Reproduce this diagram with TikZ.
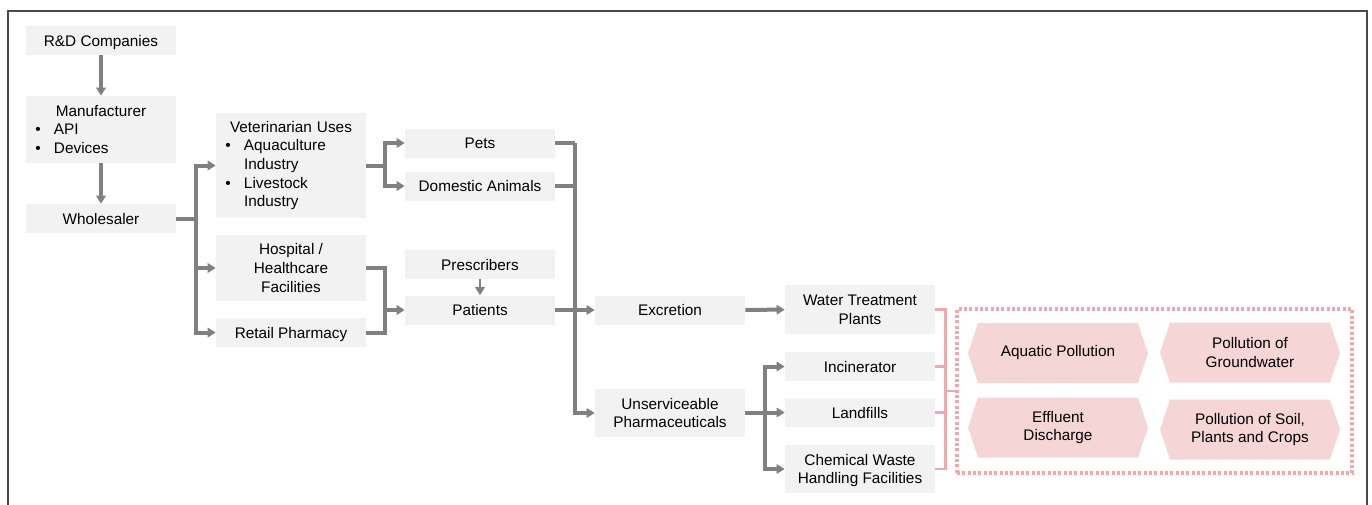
\documentclass[tikz,border=0pt]{standalone}
\usepackage{fontspec}
\setmainfont{Liberation Sans}
\usetikzlibrary{positioning, arrows.meta, shapes.symbols}

\definecolor{boxgray}{HTML}{F2F2F2}
\definecolor{linkgray}{HTML}{808080}
\definecolor{framegray}{HTML}{4A4A4A}
\definecolor{impactpink}{HTML}{F0A9AB}
\definecolor{hexpink}{HTML}{F5D5D6}

\newcommand{\boxhead}[1]{\makebox[\hsize]{#1}}
\newcommand{\bitem}[1]{\hspace*{7pt}\makebox[14pt][l]{\textbullet}#1}
\newcommand{\bcont}[1]{\hspace*{21pt}#1}

\tikzset{
  stage/.style={fill=boxgray, minimum width=112.5pt, minimum height=21.75pt,
    inner sep=0pt, align=center, text depth=0pt},
  liststage/.style={stage, text depth=, text width=112.5pt, align=left},
  link/.style={draw=linkgray, line width=3pt},
  flow/.style={link, -{Triangle[length=6pt,width=7pt]}},
  impactlink/.style={draw=impactpink, line width=2.2pt},
  impact/.style={signal, signal to=west and east, signal pointer angle=143,
    fill=hexpink, minimum width=135pt, minimum height=45pt, inner sep=0pt,
    align=center}
}

\begin{document}
\begin{tikzpicture}[x=0.75pt, y=-0.75pt, font=\fontsize{11.5}{14}\selectfont]
    \useasboundingbox (0,0) rectangle (1372,504);
    \draw[framegray, line width=1pt] (8,11) rectangle (1367,530);

    % supply chain
    \node[stage]        (rnd)    at (101,40.5)  {R\&D Companies};
    \node[liststage, minimum height=50.25pt]
                        (maker)  at (101,129.5) {\boxhead{Manufacturer}\\\bitem{API}\\\bitem{Devices}};
    \node[stage]        (whole)  at (101,218.5) {Wholesaler};
    \node[liststage, minimum height=78.75pt]
                        (vet)    at (291,165.5) {\boxhead{Veterinarian Uses}\\\bitem{Aquaculture}\\\bcont{Industry}\\\bitem{Livestock}\\\bcont{Industry}};
    \node[stage, minimum height=49.5pt] (hosp) at (291,268) {Hospital /\\Healthcare\\Facilities};
    \node[stage]        (retail) at (291,332.5) {Retail Pharmacy};

    % users
    \node[stage]        (pets)     at (480,143)   {Pets};
    \node[stage]        (domestic) at (480,186)   {Domestic Animals};
    \node[stage]        (prescr)   at (480,264.5) {Prescribers};
    \node[stage]        (patients) at (480,310)   {Patients};

    % disposal
    \node[stage]        (excretion) at (670,310) {Excretion};
    \node[stage, minimum height=36pt] (unserv) at (670,413) {Unserviceable\\Pharmaceuticals};
    \node[stage, minimum height=36.75pt] (wtp) at (860,309.5) {Water Treatment\\Plants};
    \node[stage]        (incin)    at (860,366.5) {Incinerator};
    \node[stage]        (landfill) at (860,412.5) {Landfills};
    \node[stage, minimum height=36pt] (chem) at (860,469) {Chemical Waste\\Handling Facilities};

    % impacts
    \node[draw=impactpink, line width=2.3pt, dash pattern=on 2.2pt off 1.8pt,
          minimum width=296.25pt, minimum height=123pt] (impacts) at (1154.5,391) {};
    \node[impact] (aquatic)  at (1058,353)   {Aquatic Pollution};
    \node[impact] (ground)   at (1250,352.5) {Pollution of\\Groundwater};
    \node[impact] (effluent) at (1058,427.5) {Effluent\\Discharge};
    \node[impact] (soil)     at (1250,429.5) {Pollution of Soil,\\Plants and Crops};

    \draw[flow] (rnd) -- (maker);
    \draw[flow] (maker) -- (whole);

    \draw[link] (whole.east) -- ++(20,0) coordinate (wj);
    \draw[flow] (wj) |- (vet.west);
    \draw[flow] (wj) |- (hosp.west);
    \draw[flow] (wj) |- (retail.west);

    \draw[link] (vet.east) -- ++(19,0) coordinate (vj);
    \draw[flow] (vj) |- (pets.west);
    \draw[flow] (vj) |- (domestic.west);

    \draw[link] (hosp.east) -- ++(19,0) coordinate (hj) |- (retail.east);
    \draw[flow] (hj |- patients.west) -- (patients.west);
    \draw[flow, line width=2.2pt] (prescr) -- (patients);

    \draw[link] (pets.east) -- ++(20,0) coordinate (pj);
    \draw[link] (domestic.east) -- (domestic.east -| pj);
    \draw[flow] (pj) |- (unserv.west);
    \draw[flow] (patients) -- (excretion);
    \draw[flow] (excretion) -- (wtp);

    \draw[link] (unserv.east) -- ++(20,0) coordinate (uj);
    \draw[flow] (uj) |- (incin.west);
    \draw[flow] (uj) |- (landfill.west);
    \draw[flow] (uj) |- (chem.west);

    \draw[impactlink] (wtp.east) -- ++(10,0) coordinate (tj) |- (chem.east);
    \draw[impactlink] (incin.east) -- (incin.east -| tj);
    \draw[impactlink] (landfill.east) -- (landfill.east -| tj);
    \draw[impactlink] (tj |- impacts.west) -- (impacts.west);
\end{tikzpicture}
\end{document}
